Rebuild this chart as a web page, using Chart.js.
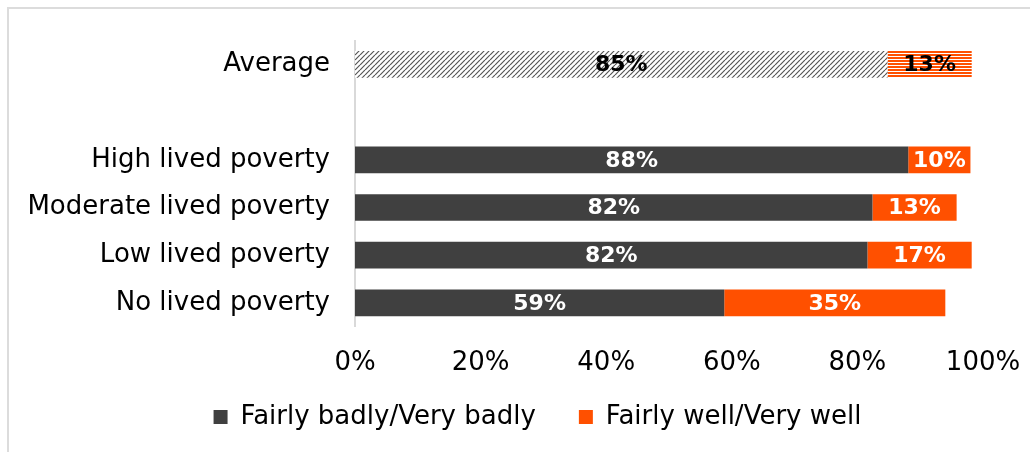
<!DOCTYPE html>
<html>
<head>
<meta charset="utf-8">
<script src="https://cdn.jsdelivr.net/npm/chart.js"></script>
<style>
    html, body { margin: 0; padding: 0; background: #fff; }
    .frame {
        position: absolute; left: 7px; top: 7px; width: 1030px; height: 460px;
        border-left: 2px solid #dcdcdc; border-top: 2px solid #dcdcdc;
    }
    .wrap { position: absolute; left: 0; top: 0; width: 1030px; height: 452px; }
</style>
</head>
<body>
<div class="frame"></div>
<div class="wrap"><canvas id="chart" width="1030" height="452"></canvas></div>
<script>
const categories = ['Average', '', 'High lived poverty', 'Moderate lived poverty', 'Low lived poverty', 'No lived poverty'];
const badly = [84.8, null, 88.1, 82.4, 81.6, 58.8];
const well = [13.4, null, 9.9, 13.4, 16.6, 35.2];
const seriesNames = ['Fairly badly/Very badly', 'Fairly well/Very well'];
const tickValues = [0, 20, 40, 60, 80, 100];

const DARK = '#404040';
const ORANGE = '#ff5000';
const FONT = '"DejaVu Sans", sans-serif';

// hatch fills for the Average row
function diagonalPattern() {
    const c = document.createElement('canvas');
    c.width = 5; c.height = 5;
    const g = c.getContext('2d');
    g.fillStyle = '#fff';
    g.fillRect(0, 0, 5, 5);
    g.strokeStyle = '#555';
    g.lineWidth = 1.2;
    g.beginPath();
    for (let k = -5; k <= 10; k += 5) {
        g.moveTo(k, 5);
        g.lineTo(k + 5, 0);
    }
    g.stroke();
    return g.createPattern(c, 'repeat');
}
function stripePattern() {
    const c = document.createElement('canvas');
    c.width = 4; c.height = 3;
    const g = c.getContext('2d');
    g.fillStyle = ORANGE;
    g.fillRect(0, 0, 4, 3);
    g.fillStyle = '#fff';
    g.fillRect(0, 2, 4, 1);
    return g.createPattern(c, 'repeat');
}
const hatchDark = diagonalPattern();
const hatchOrange = stripePattern();

const barLabels = {
    id: 'barLabels',
    afterDatasetsDraw(chart) {
        const ctx = chart.ctx;
        ctx.save();
        ctx.font = 'bold 22px ' + FONT;
        ctx.textAlign = 'center';
        ctx.textBaseline = 'middle';
        chart.data.datasets.forEach((ds, di) => {
            const meta = chart.getDatasetMeta(di);
            meta.data.forEach((el, i) => {
                const v = ds.data[i];
                if (v == null) return;
                ctx.fillStyle = i === 0 ? '#000' : '#fff';
                ctx.fillText(Math.round(v) + '%', (el.x + el.base) / 2, el.y + 1);
            });
        });
        ctx.restore();
    }
};

// legend sits a bit right of centre in the original
const legendShift = {
    id: 'legendShift',
    afterLayout(chart) {
        chart.legend.left += 46;
        chart.legend.right += 46;
    }
};

new Chart(document.getElementById('chart'), {
    type: 'bar',
    data: {
        labels: categories,
        datasets: [
            {
                label: seriesNames[0] + '    ',
                data: badly,
                backgroundColor: badly.map((v, i) => i === 0 ? hatchDark : DARK),
                barPercentage: 0.56,
                categoryPercentage: 1
            },
            {
                label: seriesNames[1],
                data: well,
                backgroundColor: well.map((v, i) => i === 0 ? hatchOrange : ORANGE),
                barPercentage: 0.56,
                categoryPercentage: 1
            }
        ]
    },
    options: {
        indexAxis: 'y',
        responsive: false,
        animation: false,
        layout: { padding: { left: 0, right: 47, top: 38, bottom: 12 } },
        scales: {
            x: {
                stacked: true,
                min: 0,
                max: 100,
                afterBuildTicks(scale) { scale.ticks = tickValues.map(v => ({ value: v })); },
                afterFit(scale) {
                    scale.height = 67.3;
                    scale.paddingLeft = 0;
                    scale.paddingRight = 0;
                },
                grid: { display: false, drawTicks: false },
                border: { display: false },
                ticks: {
                    padding: 21,
                    color: '#000',
                    font: { family: FONT, size: 26 },
                    callback: v => v + '%'
                }
            },
            y: {
                stacked: true,
                afterFit(scale) { scale.width = 355; },
                grid: { display: false, drawTicks: false },
                border: { display: true, color: '#d9d9d9', width: 2 },
                ticks: {
                    padding: 25,
                    color: '#000',
                    font: { family: FONT, size: 26 }
                }
            }
        },
        plugins: {
            tooltip: { enabled: false },
            legend: {
                position: 'bottom',
                labels: {
                    boxWidth: 14,
                    boxHeight: 14,
                    padding: 10,
                    color: '#000',
                    font: { family: FONT, size: 26 },
                    generateLabels(chart) {
                        return chart.data.datasets.map((ds, i) => ({
                            text: ds.label,
                            fillStyle: i === 0 ? DARK : ORANGE,
                            strokeStyle: 'transparent',
                            lineWidth: 0,
                            datasetIndex: i
                        }));
                    }
                }
            }
        }
    },
    plugins: [barLabels, legendShift]
});
</script>
</body>
</html>
